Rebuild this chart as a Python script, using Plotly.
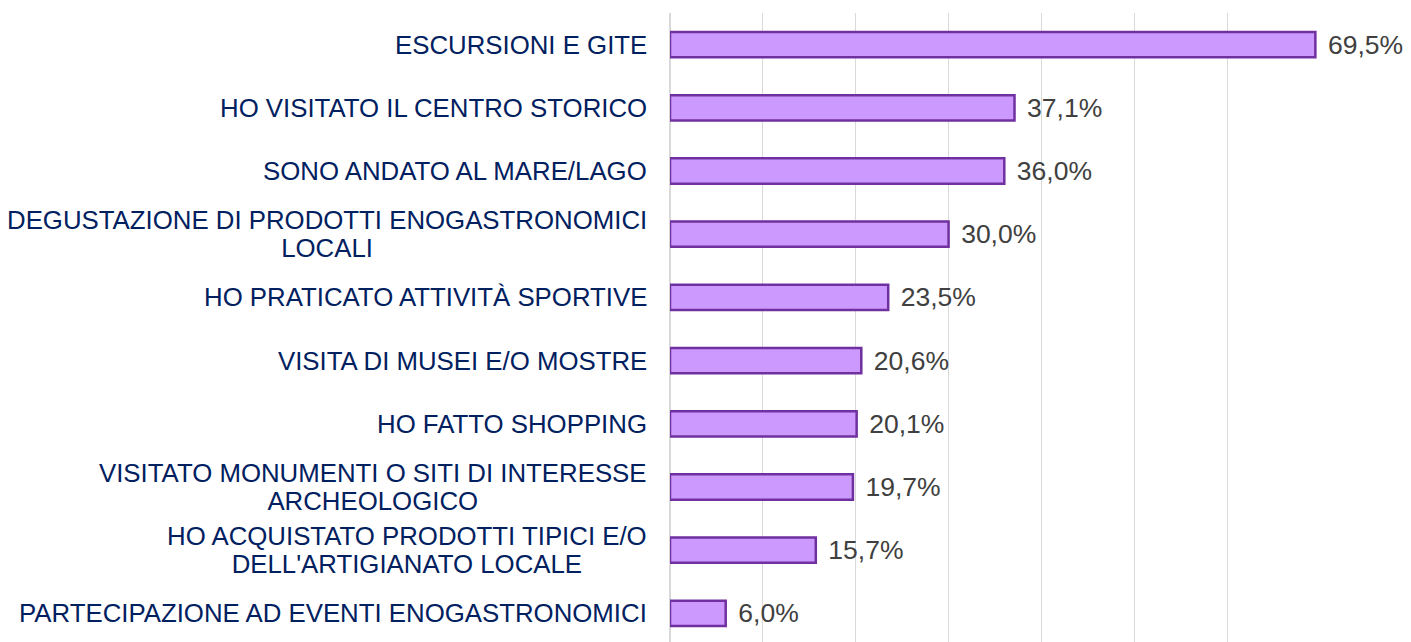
import plotly.graph_objects as go

categories = [
    "ESCURSIONI E GITE",
    "HO VISITATO IL CENTRO STORICO",
    "SONO ANDATO AL MARE/LAGO",
    "DEGUSTAZIONE DI PRODOTTI ENOGASTRONOMICI<br>LOCALI",
    "HO PRATICATO ATTIVITÀ SPORTIVE",
    "VISITA DI MUSEI E/O MOSTRE",
    "HO FATTO SHOPPING",
    "VISITATO MONUMENTI O SITI DI INTERESSE<br>ARCHEOLOGICO",
    "HO ACQUISTATO PRODOTTI TIPICI E/O<br>DELL'ARTIGIANATO LOCALE",
    "PARTECIPAZIONE AD EVENTI ENOGASTRONOMICI",
]
values = [69.5, 37.1, 36.0, 30.0, 23.5, 20.6, 20.1, 19.7, 15.7, 6.0]

ids = [f"c{i}" for i in range(len(categories))]
labels = ["\u00a0\u200a" + f"{v:.1f}".replace(".", ",") + "%" for v in values]

FONT = "Liberation Sans, Arial, sans-serif"
LABEL_SIZE = 25.8

fig = go.Figure(go.Bar(
    y=ids, x=values, orientation="h",
    marker=dict(color="#CC99FF", line=dict(color="#7030A0", width=2.5)),
    text=labels, textposition="outside", cliponaxis=False, constraintext="none",
    textfont=dict(family=FONT, size=26.5, color="#404040"),
    hoverinfo="skip",
))

annotations = []
for cid, cat in zip(ids, categories):
    lines = cat.split("<br>")
    styled = "<br>".join(
        f'<span style="font-size:{LABEL_SIZE}px">{ln}</span>' for ln in lines
    )
    annotations.append(dict(
        x=0, xref="paper", y=cid, yref="y", text=styled, showarrow=False,
        xanchor="right", yanchor="middle", align="center", xshift=-21,
        font=dict(family=FONT, size=21.5, color="#002060"),
    ))

fig.update_layout(
    width=1403, height=642,
    margin=dict(l=662, r=91, t=5, b=5),
    paper_bgcolor="white", plot_bgcolor="white",
    bargap=0.6, showlegend=False,
    annotations=annotations,
    xaxis=dict(range=[0, 70], dtick=10, showticklabels=False, showgrid=True,
               gridcolor="#D9D9D9", gridwidth=1, zeroline=True, zerolinecolor="#D9D9D9",
               zerolinewidth=1.5, fixedrange=True),
    yaxis=dict(autorange="reversed", showticklabels=False, showgrid=False,
               zeroline=False, fixedrange=True),
)

fig.write_html("out.html")
